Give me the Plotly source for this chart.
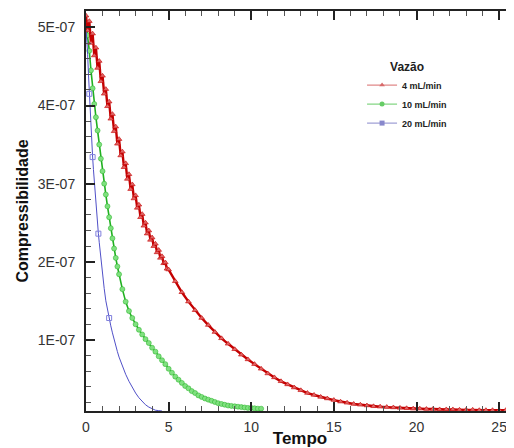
import numpy as np
import plotly.graph_objects as go

# ---------------- data (values in units of 1E-07) ----------------
series_names = ["4 mL/min", "10 mL/min", "20 mL/min"]

red_t = [0.0, 0.1, 0.2, 0.3, 0.4, 0.5, 0.6, 0.7, 0.8, 0.9,
         1.0, 1.1, 1.2, 1.3, 1.4, 1.5, 1.6, 1.7, 1.8, 1.9,
         2.0, 2.1, 2.2, 2.3, 2.4, 2.5, 2.6, 2.7, 2.8, 2.9,
         3.0, 3.1, 3.2, 3.3, 3.4, 3.5, 3.6, 3.7, 3.8, 3.9,
         4.0, 4.1, 4.2, 4.3, 4.4, 4.5, 4.6, 4.7, 4.8, 4.9, 5.0,
         5.4, 5.8, 6.2, 6.6, 7.0, 7.4, 7.8, 8.2, 8.6, 9.0,
         9.4, 9.8, 10.2, 10.6, 11.0, 11.4, 11.8, 12.2, 12.6, 13.0,
         13.4, 13.8, 14.2, 14.6, 15.0, 15.4, 15.8, 16.2, 16.6, 17.0,
         17.4, 17.8, 18.2, 18.6, 19.0, 19.4, 19.8, 20.2, 20.6, 21.0,
         21.4, 21.8, 22.2, 22.6, 23.0, 23.4, 23.8, 24.2, 24.6, 25.0,
         25.4, 25.8]
red_v = [5.15, 4.96, 5.08, 4.80, 4.92, 4.64, 4.74, 4.48, 4.57, 4.31,
         4.38, 4.15, 4.21, 3.99, 4.05, 3.83, 3.89, 3.67, 3.73, 3.51,
         3.57, 3.36, 3.41, 3.21, 3.26, 3.06, 3.12, 2.93, 2.99, 2.81,
         2.85, 2.69, 2.73, 2.57, 2.61, 2.46, 2.50, 2.36, 2.40, 2.28,
         2.31, 2.20, 2.23, 2.12, 2.15, 2.05, 2.07, 1.98, 1.99, 1.91, 1.90,
         1.75, 1.61, 1.49, 1.38, 1.28, 1.19, 1.10, 1.02, 0.95, 0.88,
         0.81, 0.75, 0.69, 0.63, 0.57, 0.52, 0.47, 0.43, 0.39, 0.355,
         0.32, 0.295, 0.27, 0.25, 0.23, 0.21, 0.195, 0.18, 0.17, 0.16,
         0.15, 0.145, 0.14, 0.135, 0.13, 0.125, 0.12, 0.12, 0.115, 0.115,
         0.11, 0.11, 0.11, 0.105, 0.105, 0.105, 0.10, 0.10, 0.10, 0.10,
         0.10, 0.10]

green_t = [0.0, 0.1, 0.2, 0.3, 0.4, 0.5, 0.6, 0.7, 0.8, 0.9,
           1.0, 1.1, 1.2, 1.3, 1.4, 1.5, 1.6, 1.7, 1.8, 1.9,
           2.0, 2.2, 2.4, 2.6, 2.8, 3.0, 3.2, 3.4, 3.6, 3.8,
           4.0, 4.2, 4.4, 4.6, 4.8, 5.0, 5.2, 5.4, 5.6, 5.8,
           6.0, 6.2, 6.4, 6.6, 6.8, 7.0, 7.2, 7.4, 7.6, 7.8,
           8.0, 8.2, 8.4, 8.6, 8.8, 9.0, 9.2, 9.4, 9.6, 9.8,
           10.0, 10.2, 10.4, 10.6]
green_v = [5.05, 4.90, 4.70, 4.45, 4.22, 4.02, 3.85, 3.68, 3.50, 3.32,
           3.16, 3.00, 2.86, 2.71, 2.57, 2.43, 2.30, 2.17, 2.05, 1.94,
           1.84, 1.65, 1.49, 1.37, 1.28, 1.20, 1.13, 1.07, 1.01, 0.96,
           0.90, 0.85, 0.79, 0.74, 0.69, 0.63, 0.58, 0.53, 0.49, 0.45,
           0.41, 0.38, 0.345, 0.32, 0.29, 0.27, 0.25, 0.235, 0.22, 0.205,
           0.19, 0.18, 0.17, 0.16, 0.155, 0.15, 0.145, 0.14, 0.135, 0.13,
           0.13, 0.125, 0.12, 0.12]

blue_t = [0.00, 0.05, 0.10, 0.15, 0.20, 0.25, 0.30, 0.35, 0.40, 0.45,
          0.50, 0.55, 0.60, 0.65, 0.70, 0.75, 0.80, 0.85, 0.90, 0.95,
          1.00, 1.10, 1.20, 1.30, 1.40, 1.50, 1.60, 1.70, 1.80, 1.90,
          2.00, 2.20, 2.40, 2.60, 2.80, 3.00, 3.20, 3.40, 3.60, 3.80,
          4.00, 4.20, 4.40, 4.60]
blue_v = [5.00, 4.85, 4.65, 4.40, 4.15, 3.90, 3.68, 3.50, 3.34, 3.18,
          3.02, 2.88, 2.74, 2.61, 2.48, 2.36, 2.25, 2.14, 2.04, 1.94,
          1.84, 1.66, 1.50, 1.38, 1.28, 1.18, 1.09, 1.00, 0.92, 0.85,
          0.78, 0.66, 0.56, 0.47, 0.39, 0.32, 0.26, 0.21, 0.17, 0.14,
          0.115, 0.10, 0.095, 0.09]
blue_sym_t = [0.00, 0.20, 0.40, 0.75, 1.40]
blue_sym_v = [5.00, 4.15, 3.34, 2.36, 1.28]

y_tick_vals = [1, 2, 3, 4, 5]
y_tick_text = ["1E-07", "2E-07", "3E-07", "4E-07", "5E-07"]
x_tick_vals = [0, 5, 10, 15, 20, 25]

SCALE = 1e-7
def sc(v):
    return list(np.array(v) * SCALE)

RED, RED_M, RED_L = "#c40000", "#e06868", "#d86a6a"
GRN, GRN_M, GRN_L = "#20b020", "#80e080", "#66cc66"
BLU, BLU_M, BLU_L = "#5050c8", "#8080dd", "#8888cc"
FONT = "Liberation Sans, Arial, sans-serif"

fig = go.Figure()

fig.add_trace(go.Scatter(x=green_t, y=sc(green_v), mode="lines+markers",
                         line=dict(color=GRN, width=1.6),
                         marker=dict(symbol="circle", size=5, color=GRN_M,
                                     line=dict(color=GRN, width=0.5)),
                         showlegend=False))
fig.add_trace(go.Scatter(x=blue_t, y=sc(blue_v), mode="lines",
                         line=dict(color=BLU, width=1),
                         showlegend=False))
fig.add_trace(go.Scatter(x=blue_sym_t, y=sc(blue_sym_v), mode="markers",
                         marker=dict(symbol="square-open", size=5, color=BLU_M,
                                     line=dict(width=1)),
                         showlegend=False))
fig.add_trace(go.Scatter(x=red_t, y=sc(red_v), mode="lines+markers",
                         line=dict(color=RED, width=2.4),
                         marker=dict(symbol="triangle-up", size=5, color=RED_M,
                                     line=dict(color=RED, width=0.6)),
                         showlegend=False))

# legend entries
leg_styles = [(RED_L, "triangle-up"), (GRN_L, "circle"), (BLU_L, "square")]
for name, (col, sym) in zip(series_names, leg_styles):
    fig.add_trace(go.Scatter(x=[None], y=[None], mode="lines+markers",
                             name="<b>" + name + "</b>",
                             line=dict(color=col, width=1),
                             marker=dict(symbol=sym, size=5, color=col)))

axis_common = dict(
    showline=True, linecolor="#222222", linewidth=2,
    ticks="inside", ticklen=9, tickwidth=2, tickcolor="#222222",
    showgrid=False, zeroline=False, automargin=False,
    tickfont=dict(family=FONT, size=14, color="#333333"),
)

fig.update_xaxes(**axis_common, range=[0, 25.9], tickvals=x_tick_vals,
                 mirror="ticks", ticklabelstandoff=2,
                 minor=dict(dtick=1, tick0=0, ticks="inside", ticklen=5,
                            tickwidth=1, tickcolor="#555555"),
                 title=dict(text="<b>Tempo</b>", standoff=0,
                            font=dict(family=FONT, size=17, color="#111111")))
fig.update_yaxes(**axis_common, range=[0.09e-7, 5.21e-7],
                 tickvals=sc(y_tick_vals), ticktext=y_tick_text,
                 mirror=False, ticklabelstandoff=6,
                 minor=dict(dtick=0.2e-7, tick0=0, ticks="inside", ticklen=5,
                            tickwidth=1, tickcolor="#555555"),
                 title=dict(text="<b>Compressibilidade</b>", standoff=5,
                            font=dict(family=FONT, size=16, color="#111111")))

# the page body adds an 8px margin, so the figure is sized to fit the window
fig.update_layout(
    width=506, height=440,
    margin=dict(l=78, r=0, t=3, b=37),
    plot_bgcolor="white", paper_bgcolor="white",
    legend=dict(x=0.645, y=0.89, xanchor="left", yanchor="top",
                bgcolor="rgba(0,0,0,0)",
                font=dict(family=FONT, size=9, color="#222222"),
                title=dict(text="<b>Vazão</b>", side="top center",
                           font=dict(family=FONT, size=12, color="#222222"))),
)

fig.write_html("out.html")
